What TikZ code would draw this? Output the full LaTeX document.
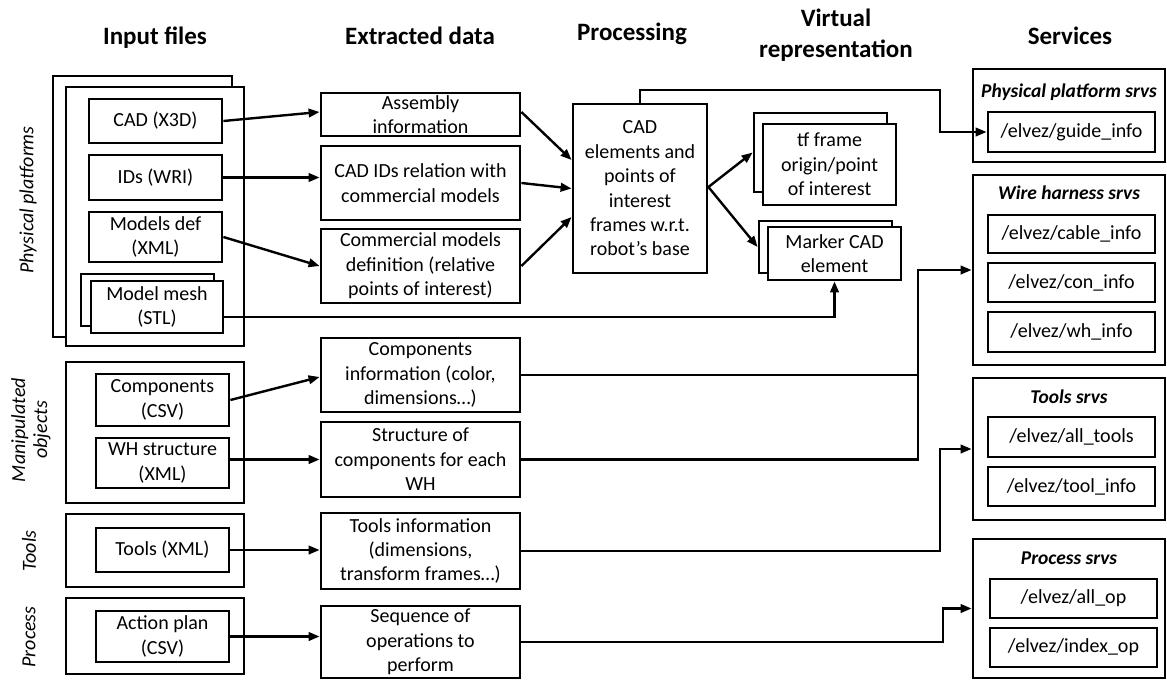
\documentclass[tikz,border=0pt]{standalone}
\usepackage{fontspec}
\setmainfont{Carlito}
\usetikzlibrary{arrows.meta,calc}
\newcommand\txtbody{\fontsize{20pt}{24.4pt}\selectfont}
\newcommand\txthead{\fontsize{25pt}{31pt}\selectfont\bfseries}
\newcommand\txtgroup{\fontsize{20pt}{22pt}\selectfont\itshape}
\newcommand\txtsrv{\fontsize{19.5pt}{23pt}\selectfont\bfseries\itshape}
\begin{document}
\begin{tikzpicture}[x=1pt,y=-1pt,
  box/.style={draw, line width=2.8pt, fill=white, align=center, inner sep=0pt, font=\txtbody},
  frame/.style={draw, line width=2.8pt, fill=white, inner sep=0pt},
  head/.style={font=\txthead, align=center, inner sep=0pt},
  grouplabel/.style={rotate=90, font=\txtgroup, align=center, inner sep=0pt},
  srvtitle/.style={font=\txtsrv, inner sep=0pt},
  wire/.style={line width=2.4pt},
  link/.style={line width=2.4pt, -{Triangle[length=11pt,width=8.5pt]}}]
\useasboundingbox (0,0) rectangle (1167,680);

% ---- column headings
\node[head, anchor=base] (hInput) at (155,44) {Input files};
\node[head, anchor=base] (hExtr) at (420,44) {Extracted data};
\node[head, anchor=base] (hProc) at (632,40) {Processing};
\node[head] (hVirt) at (836,35) {Virtual\\representation};
\node[head, anchor=base] (hSrv) at (1070,44) {Services};

% ---- input files: physical platforms
\node[frame, minimum width=179pt, minimum height=261pt] (ppback) at (142.5,206.5) {};
\node[frame, minimum width=178pt, minimum height=259pt] (ppfront) at (155,216.5) {};
\node[box, minimum width=133pt, minimum height=44pt] (cad) at (155.5,121) {CAD (X3D)};
\node[box, minimum width=133pt, minimum height=45pt] (ids) at (155.5,177.5) {IDs (WRI)};
\node[box, minimum width=133pt, minimum height=50pt] (mdef) at (155.5,237) {Models def\\(XML)};
\node[frame, minimum width=133pt, minimum height=52pt] (meshback) at (147.5,300) {};
\node[box, minimum width=132pt, minimum height=52pt] (mesh) at (157,307) {Model mesh\\(STL)};
\node[grouplabel] (lblPP) at (28,200) {Physical platforms};

% ---- input files: manipulated objects
\node[frame, minimum width=178pt, minimum height=141pt] (mogroup) at (155,432.5) {};
\node[box, minimum width=133pt, minimum height=52pt] (comp) at (162.5,400) {Components\\(CSV)};
\node[box, minimum width=133pt, minimum height=50pt] (whs) at (162.5,463) {WH structure\\(XML)};
\node[grouplabel] (lblMO) at (31,430) {Manipulated\\objects};

% ---- input files: tools
\node[frame, minimum width=178pt, minimum height=73pt] (toolgroup) at (155,550.5) {};
\node[box, minimum width=133pt, minimum height=44pt] (toolsx) at (162.5,550) {Tools (XML)};
\node[grouplabel] (lblTools) at (29,551) {Tools};

% ---- input files: process
\node[frame, minimum width=178pt, minimum height=76pt] (procgroup) at (155,636) {};
\node[box, minimum width=133pt, minimum height=51pt] (plan) at (162.5,636.5) {Action plan\\(CSV)};
\node[grouplabel] (lblProc) at (29,637) {Process};

% ---- extracted data
\node[box, minimum width=199pt, minimum height=43pt] (asm) at (420.5,114.5) {Assembly\\information};
\node[box, minimum width=199pt, minimum height=74pt] (cadids) at (420.5,183) {CAD IDs relation with\\commercial models};
\node[box, minimum width=199pt, minimum height=74pt] (cmd) at (420.5,266) {Commercial models\\definition (relative\\points of interest)};
\node[box, minimum width=199pt, minimum height=74pt] (compinfo) at (420.5,375) {Components\\information (color,\\dimensions…)};
\node[box, minimum width=199pt, minimum height=75pt] (struct) at (420.5,459.5) {Structure of\\components for each\\WH};
\node[box, minimum width=199pt, minimum height=76pt] (toolinfo) at (420.5,551) {Tools information\\(dimensions,\\transform frames…)};
\node[box, minimum width=199pt, minimum height=72pt] (seq) at (420.5,642) {Sequence of\\operations to\\perform};

% ---- processing
\node[box, minimum width=134pt, minimum height=169pt] (proc) at (640,188.5) {CAD\\elements and\\points of\\interest\\frames w.r.t.\\robot’s base};

% ---- virtual representation
\node[frame, minimum width=133pt, minimum height=79pt] (tfback) at (820.5,152.5) {};
\node[box, minimum width=133pt, minimum height=81pt] (tf) at (829.5,164.5) {tf frame\\origin/point\\of interest};
\node[frame, minimum width=133pt, minimum height=52pt] (markerback) at (825.5,247) {};
\node[box, minimum width=133pt, minimum height=53pt] (marker) at (834.5,253.5) {Marker CAD\\element};

% ---- services
\node[frame, minimum width=192pt, minimum height=93pt] (ppsrv) at (1069,115.5) {};
\node[srvtitle] (ppsrvT) at (1069,92) {Physical platform srvs};
\node[box, minimum width=167pt, minimum height=40pt] (guide) at (1071.5,132) {/elvez/guide\_info};

\node[frame, minimum width=192pt, minimum height=190pt] (whsrv) at (1069,270) {};
\node[srvtitle] (whsrvT) at (1069,193) {Wire harness srvs};
\node[box, minimum width=167pt, minimum height=38pt] (cable) at (1071.5,234) {/elvez/cable\_info};
\node[box, minimum width=167pt, minimum height=39pt] (con) at (1071.5,282.5) {/elvez/con\_info};
\node[box, minimum width=167pt, minimum height=40pt] (whinfo) at (1071.5,332) {/elvez/wh\_info};

\node[frame, minimum width=192pt, minimum height=142pt] (toolsrv) at (1069,449) {};
\node[srvtitle] (toolsrvT) at (1069,397) {Tools srvs};
\node[box, minimum width=167pt, minimum height=40pt] (alltools) at (1071.5,437) {/elvez/all\_tools};
\node[box, minimum width=167pt, minimum height=39pt] (toolinfosrv) at (1071.5,486.5) {/elvez/tool\_info};

\node[frame, minimum width=192pt, minimum height=139pt] (procsrv) at (1069,608.5) {};
\node[srvtitle] (procsrvT) at (1069,558) {Process srvs};
\node[box, minimum width=167pt, minimum height=39pt] (allop) at (1073.5,598.5) {/elvez/all\_op};
\node[box, minimum width=167pt, minimum height=39pt] (indexop) at (1073.5,647.5) {/elvez/index\_op};

% ---- bends of the routed connectors
\coordinate (ppbend) at (940,90);
\coordinate (whbus) at (918,270);
\coordinate (toolbend) at (940,449);
\coordinate (procbend) at (943,608.5);

% ---- input files -> extracted data
\draw[link] (cad.east) -- ([yshift=2.5pt]asm.west);
\draw[link] (ids.east) -- (ids.east -| cadids.west);
\draw[link] (mdef.east) -- (cmd.west);
\draw[link] (comp.east) -- ([yshift=-2pt]compinfo.west);
\draw[link] (struct.west -| whs.east) -- (struct.west);
\draw[link] (toolsx.east) -- (toolsx.east -| toolinfo.west);
\draw[link] (plan.east) -- (plan.east -| seq.west);
\draw[link] ([yshift=-10pt]mesh.east) -| (marker.south);

% ---- extracted data -> processing
\draw[link] ([yshift=2.5pt]asm.east) -- ([yshift=28.5pt]proc.west);
\draw[link] (cadids.east) -- (proc.west);
\draw[link] (cmd.east) -- ([yshift=-28.5pt]proc.west);

% ---- processing -> virtual representation
\draw[link] ([yshift=1.5pt]proc.east) -- (tfback.west);
\draw[link] ([yshift=1.5pt]proc.east) -- (markerback.west);

% ---- to services
\draw[link] (proc.north) |- (ppbend) |- (guide.west);
\draw[wire] (struct.east) -| (whbus);
\draw[link] (compinfo.east) -| (whbus) -- (whsrv.west);
\draw[link] (toolinfo.east) -| (toolbend) -- (toolsrv.west);
\draw[link] (seq.east) -| (procbend) -- (procsrv.west);
\end{tikzpicture}
\end{document}
